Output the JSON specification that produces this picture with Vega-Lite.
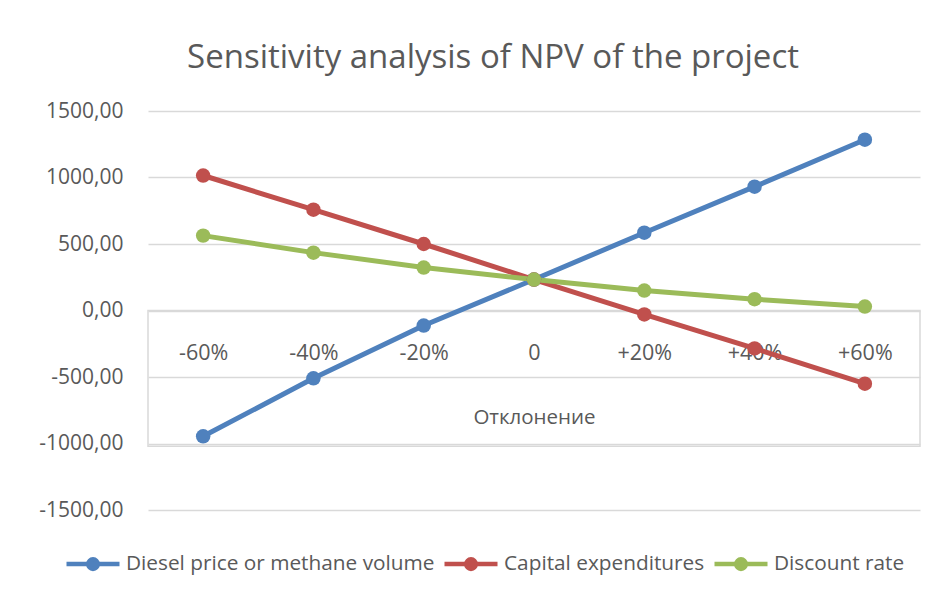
{
  "$schema": "https://vega.github.io/schema/vega-lite/v6.json",
  "autosize": {"type": "none"},
  "padding": {"left": 148, "top": 111, "right": 22, "bottom": 87},
  "width": 772,
  "height": 399,
  "background": "white",
  "title": {
    "text": "Sensitivity analysis of NPV of the project",
    "font": "Open Sans",
    "fontSize": 33,
    "fontWeight": "normal",
    "color": "#595959",
    "anchor": "middle",
    "dx": -41,
    "offset": 25
  },
  "data": {
    "values": [
      {"dev": "-60%", "series": "Diesel price or methane volume", "npv": -946},
      {"dev": "-40%", "series": "Diesel price or methane volume", "npv": -510},
      {"dev": "-20%", "series": "Diesel price or methane volume", "npv": -113},
      {"dev": "0", "series": "Diesel price or methane volume", "npv": 233},
      {"dev": "+20%", "series": "Diesel price or methane volume", "npv": 585},
      {"dev": "+40%", "series": "Diesel price or methane volume", "npv": 931},
      {"dev": "+60%", "series": "Diesel price or methane volume", "npv": 1284},
      {"dev": "-60%", "series": "Capital expenditures", "npv": 1015},
      {"dev": "-40%", "series": "Capital expenditures", "npv": 758},
      {"dev": "-20%", "series": "Capital expenditures", "npv": 500},
      {"dev": "0", "series": "Capital expenditures", "npv": 233},
      {"dev": "+20%", "series": "Capital expenditures", "npv": -30},
      {"dev": "+40%", "series": "Capital expenditures", "npv": -285},
      {"dev": "+60%", "series": "Capital expenditures", "npv": -550},
      {"dev": "-60%", "series": "Discount rate", "npv": 563},
      {"dev": "-40%", "series": "Discount rate", "npv": 435},
      {"dev": "-20%", "series": "Discount rate", "npv": 323},
      {"dev": "0", "series": "Discount rate", "npv": 233},
      {"dev": "+20%", "series": "Discount rate", "npv": 150},
      {"dev": "+40%", "series": "Discount rate", "npv": 85},
      {"dev": "+60%", "series": "Discount rate", "npv": 30}
    ]
  },
  "layer": [
    {
      "data": {"values": [{"top": 0, "bottom": -1020}]},
      "mark": {"type": "rect", "fill": null, "stroke": "#d9d9d9", "strokeWidth": 1.5},
      "encoding": {
        "y": {"field": "top", "type": "quantitative", "scale": {"domain": [-1500, 1500]}},
        "y2": {"field": "bottom"}
      }
    },
    {
      "mark": {"type": "line", "strokeWidth": 5, "strokeCap": "round", "point": {"filled": true, "size": 210, "opacity": 1}},
      "encoding": {
        "x": {
          "field": "dev",
          "type": "ordinal",
          "sort": ["-60%", "-40%", "-20%", "0", "+20%", "+40%", "+60%"],
          "scale": {"type": "point", "padding": 0.5},
          "axis": {
            "title": "Отклонение",
            "orient": "bottom",
            "offset": -200,
            "domain": false,
            "ticks": false,
            "grid": false,
            "labelAngle": 0,
            "labelBaseline": "middle",
            "labelPadding": 43,
            "labelFont": "Open Sans",
            "labelFontSize": 21.5,
            "labelColor": "#595959",
            "titleFont": "Open Sans",
            "titleFontSize": 20.5,
            "titleFontWeight": "normal",
            "titleColor": "#595959",
            "titlePadding": 44
          }
        },
        "y": {
          "field": "npv",
          "type": "quantitative",
          "scale": {"domain": [-1500, 1500], "nice": false, "zero": false},
          "axis": {
            "title": null,
            "values": [-1500, -1000, -500, 0, 500, 1000, 1500],
            "labelExpr": "replace(replace(format(datum.value, '.2f'), '.', ','), '\u2212', '-')",
            "domain": false,
            "ticks": false,
            "grid": true,
            "gridColor": "#d9d9d9",
            "gridWidth": 1.5,
            "labelPadding": 25,
            "labelFont": "Open Sans",
            "labelFontSize": 21,
            "labelColor": "#595959"
          }
        },
        "color": {
          "field": "series",
          "type": "nominal",
          "sort": ["Diesel price or methane volume", "Capital expenditures", "Discount rate"],
          "scale": {
            "domain": ["Diesel price or methane volume", "Capital expenditures", "Discount rate"],
            "range": ["#4F81BD", "#C0504D", "#9BBB59"]
          },
          "legend": {
            "title": null,
            "orient": "none",
            "direction": "horizontal",
            "columns": 3,
            "legendX": -84,
            "legendY": 424,
            "symbolType": "M-1,0L1,0M0.18,0A0.18,0.18,0,1,1,-0.18,0A0.18,0.18,0,1,1,0.18,0",
            "symbolSize": 2809,
            "symbolStrokeWidth": 4.5,
            "labelFont": "Open Sans",
            "labelFontSize": 20.8,
            "labelColor": "#595959",
            "labelOffset": 4,
            "columnPadding": 0,
            "labelLimit": 400,
            "encode": {
              "symbols": {
                "update": {
                  "fill": {"scale": "color", "field": "value"},
                  "stroke": {"scale": "color", "field": "value"},
                  "fillOpacity": {"value": 1},
                  "opacity": {"value": 1}
                }
              }
            }
          }
        }
      }
    }
  ],
  "config": {
    "view": {"stroke": null}
  }
}
